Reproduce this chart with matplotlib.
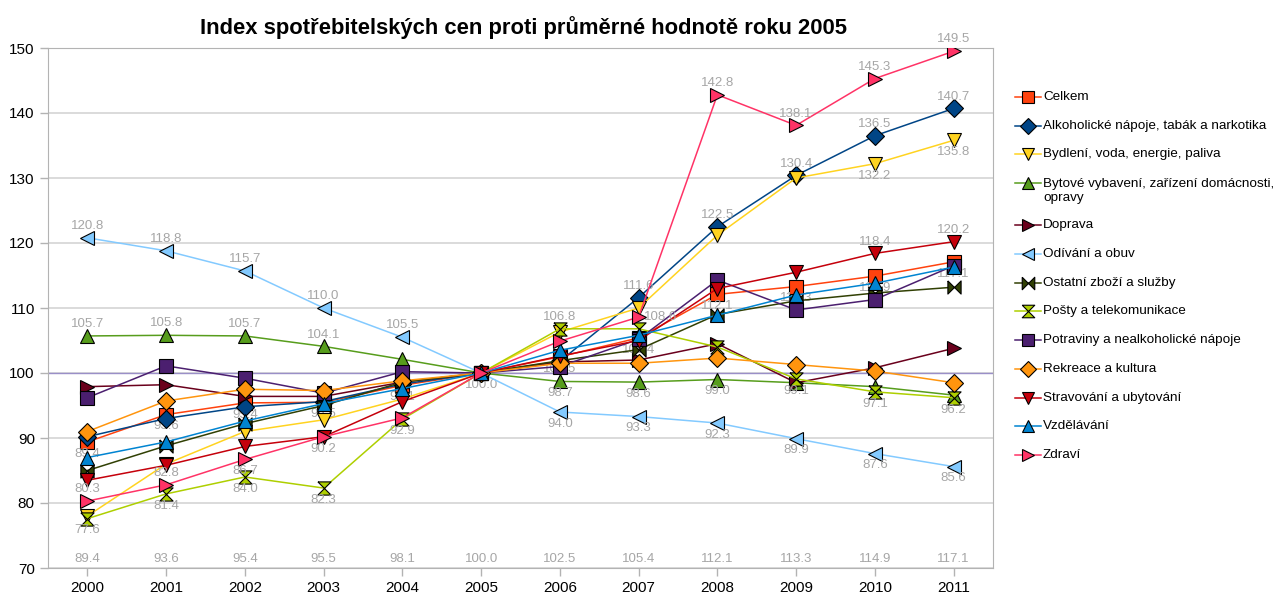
import matplotlib
matplotlib.use("Agg")
import matplotlib.pyplot as plt
from matplotlib.lines import Line2D

plt.rcParams['font.family'] = ['Liberation Sans', 'DejaVu Sans']

years = ["2000", "2001", "2002", "2003", "2004", "2005",
         "2006", "2007", "2008", "2009", "2010", "2011"]

celkem = [89.4, 93.6, 95.4, 95.5, 98.1, 100.0, 102.5, 105.4, 112.1, 113.3, 114.9, 117.1]
alkohol = [90.2, 93.0, 94.8, 95.6, 98.3, 100.0, 101.8, 111.6, 122.5, 130.4, 136.5, 140.7]
bydleni = [78.0, 86.0, 91.0, 92.8, 96.0, 100.0, 106.3, 110.0, 121.2, 130.0, 132.2, 135.8]
bytove = [105.7, 105.8, 105.7, 104.1, 102.1, 100.0, 98.7, 98.6, 99.0, 98.5, 97.9, 96.6]
doprava = [97.9, 98.2, 96.4, 96.4, 98.6, 100.0, 101.7, 102.0, 104.5, 98.5, 100.8, 103.8]
odivani = [120.8, 118.8, 115.7, 110.0, 105.5, 100.0, 94.0, 93.3, 92.3, 89.9, 87.6, 85.6]
ostatni = [85.0, 88.8, 92.2, 95.0, 98.6, 100.0, 101.9, 103.6, 109.0, 111.1, 112.3, 113.2]
posty = [77.6, 81.4, 84.0, 82.3, 92.9, 100.0, 106.8, 106.8, 104.0, 99.1, 97.1, 96.2]
potraviny = [96.2, 101.1, 99.2, 96.9, 100.2, 100.0, 101.0, 105.2, 114.3, 109.7, 111.3, 116.5]
rekreace = [91.0, 95.7, 97.5, 97.3, 98.8, 100.0, 101.5, 101.5, 102.3, 101.3, 100.3, 98.5]
stravovani = [83.5, 85.8, 88.7, 90.2, 95.6, 100.0, 102.6, 105.0, 113.0, 115.5, 118.4, 120.2]
vzdelavani = [87.0, 89.4, 92.6, 95.3, 97.6, 100.0, 103.5, 105.8, 108.9, 112.0, 113.8, 116.3]
zdravi = [80.3, 82.8, 86.7, 90.2, 93.1, 100.0, 104.9, 108.6, 142.8, 138.1, 145.3, 149.5]

names = ["Celkem", "Alkoholické nápoje, tabák a narkotika", "Bydlení, voda, energie, paliva",
         "Bytové vybavení, zařízení domácnosti,\nopravy", "Doprava", "Odívání a obuv",
         "Ostatní zboží a služby", "Pošty a telekomunikace", "Potraviny a nealkoholické nápoje",
         "Rekreace a kultura", "Stravování a ubytování", "Vzdělávání", "Zdraví"]
values = [celkem, alkohol, bydleni, bytove, doprava, odivani, ostatni, posty,
          potraviny, rekreace, stravovani, vzdelavani, zdravi]

colors = ["#ff420e", "#004586", "#ffd320", "#579d1c", "#6a001c", "#83caff", "#314004",
          "#aecf00", "#4b1f6f", "#ff950e", "#c5000b", "#0084d1", "#ff3366"]
hourglass = [(-1, 1), (1, 1), (-1, -1), (1, -1), (-1, 1)]
bowtie = [(-1, 1), (-1, -1), (1, 1), (1, -1), (-1, 1)]
markers = ["s", "D", "v", "^", ">", "<", bowtie, hourglass, "s", "D", "v", "^", ">"]
msizes = [9.5, 9, 9.5, 9.5, 9.5, 9.5, 9.5, 9.5, 9.5, 9, 9.5, 9.5, 9.5]

# which points carry a value label, and where (a = above, b = below, r = right)
label_spots = {
    0: [(i, "b") for i in range(12)],
    1: [(7, "a"), (8, "a"), (9, "a"), (10, "a"), (11, "a")],
    2: [(10, "b"), (11, "b")],
    3: [(0, "a"), (1, "a"), (2, "a"), (3, "a"), (6, "b"), (7, "b"), (8, "b")],
    5: [(0, "a"), (1, "a"), (2, "a"), (3, "a"), (4, "a"), (6, "b"), (7, "b"),
        (8, "b"), (9, "b"), (10, "b"), (11, "b")],
    7: [(0, "b"), (1, "b"), (2, "b"), (3, "b"), (4, "b"), (6, "a"), (9, "b"),
        (10, "b"), (11, "b")],
    10: [(10, "a"), (11, "a")],
    12: [(0, "a"), (1, "a"), (2, "b"), (3, "b"), (7, "r"), (8, "a"), (9, "a"),
         (10, "a"), (11, "a")],
}
offsets = {"a": (0, 8.5), "b": (0, -8.5), "r": (16, 0)}
lab_color = "#a6a6a6"

W, H = 1279, 597
fig = plt.figure(figsize=(W / 100, H / 100), dpi=100)
ax = fig.add_axes([48 / W, 29 / H, 945 / W, 520 / H])

x = list(range(len(years)))
ax.set_xlim(-0.5, 11.5)
ax.set_ylim(70, 150)
ax.set_yticks(range(70, 151, 10))
ax.set_xticks(x)
ax.set_xticklabels(years)
ax.tick_params(labelsize=11, colors="#b3b3b3", labelcolor="black", length=6, width=1)
ax.grid(axis="y", color="#d4d4d4", lw=1.2)
ax.set_axisbelow(True)
for s in ax.spines.values():
    s.set_color("#b3b3b3")
ax.axhline(100, color="#9a8fc8", lw=1, zorder=1.5)

for k, (vals, c, m, ms) in enumerate(zip(values, colors, markers, msizes)):
    z = 3 + k * 0.1
    ax.plot(x, vals, color=c, lw=1.1, marker=m, markersize=ms, markerfacecolor=c,
            markeredgecolor="black", markeredgewidth=0.8, zorder=z)
    for i, pos in label_spots.get(k, []):
        ax.annotate(f"{vals[i]:.1f}", (i, vals[i]), xytext=offsets[pos],
                    textcoords="offset points", ha="center", va="center",
                    fontsize=9.5, color=lab_color, zorder=z + 0.05)

# value row along the bottom of the plot
for i in x:
    ax.annotate(f"{celkem[i]:.1f}", (i, 70), xytext=(0, 6.5), textcoords="offset points",
                ha="center", va="center", fontsize=9.5, color=lab_color)

fig.text(523 / W, 1 - 28 / H, "Index spotřebitelských cen proti průměrné hodnotě roku 2005",
         ha="center", va="center", fontsize=15.8, fontweight="bold")

# legend
for k, (name, c, m, ms) in enumerate(zip(names, colors, markers, msizes)):
    yp = 97 + 28.7 * k + (13.5 if k >= 4 else 0)
    fy = 1 - yp / H
    fig.add_artist(Line2D([1015 / W, 1028 / W, 1041 / W], [fy] * 3, color=c, lw=1.1,
                          marker=m, markersize=ms * 0.95, markevery=[1], markerfacecolor=c,
                          markeredgecolor="black", markeredgewidth=0.8))
    nlines = name.count("\n") + 1
    fig.text(1043 / W, 1 - (yp + (nlines - 1) * 7.5) / H, name, ha="left", va="center",
             fontsize=9.7, linespacing=1.2)

fig.savefig("out.png", dpi=100)
